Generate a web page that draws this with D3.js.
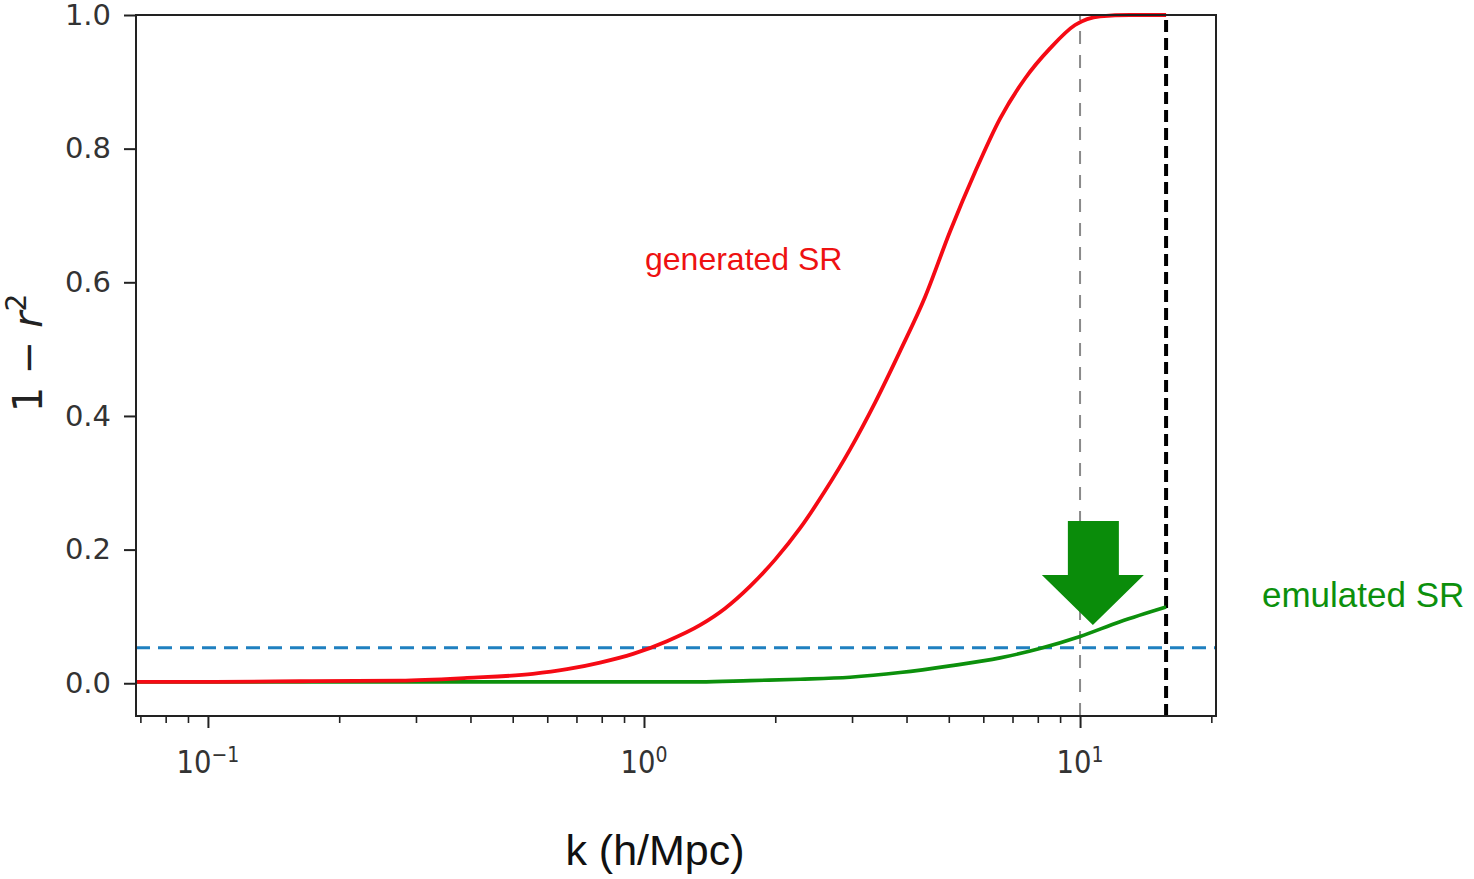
<!DOCTYPE html>
<html>
<head>
<meta charset="utf-8">
<script src="https://cdn.jsdelivr.net/npm/d3@7"></script>
<style>
  body { margin: 0; background: #fff; }
  svg { display: block; }
</style>
</head>
<body>
<div id="chart"></div>
<script>
// k values (h/Mpc) and 1 - r^2
const kRed = [0.0684, 0.1, 0.163, 0.276, 0.393, 0.556, 0.666, 0.793, 0.944, 1.129, 1.344, 1.534, 1.750, 1.998,
  2.280, 2.602, 2.969, 3.388, 3.866, 4.411, 5.033, 5.744, 6.555, 7.479, 8.535, 9.739, 11.12, 13.02, 15.75];
const redValues = [0.002, 0.002, 0.003, 0.004, 0.008, 0.014, 0.021, 0.031, 0.044, 0.063, 0.087, 0.112, 0.145, 0.185,
  0.232, 0.288, 0.350, 0.420, 0.497, 0.578, 0.676, 0.765, 0.845, 0.905, 0.950, 0.985, 0.998, 1.0, 1.0];

const kGreen = [0.0684, 0.1, 0.276, 0.556, 1.0, 1.344, 1.750, 2.280, 2.969, 3.866, 5.033, 6.555, 8.09, 10.0, 12.35, 15.75];
const greenValues = [0.002, 0.002, 0.002, 0.002, 0.002, 0.002, 0.004, 0.006, 0.009, 0.016, 0.026, 0.038, 0.052, 0.070, 0.092, 0.114];

const threshold = 0.053;     // blue dashed line
const kGray = 10;            // thin gray dashed line
const kBlack = 15.75;        // thick black dashed line
const arrowTip = { k: 10.7, v: 0.087 };

const yTicks = [0.0, 0.2, 0.4, 0.6, 0.8, 1.0];
const xMajor = [0.1, 1, 10];
const xExponents = ["\u22121", "0", "1"];
const xMinor = [0.07, 0.08, 0.09, 0.2, 0.3, 0.4, 0.5, 0.6, 0.7, 0.8, 0.9, 2, 3, 4, 5, 6, 7, 8, 9, 20];

const W = 1474, H = 879;
const margin = { top: 15, right: 258, bottom: 163, left: 136 };

const svg = d3.select("#chart").append("svg")
  .attr("width", W)
  .attr("height", H);

const x = d3.scaleLog()
  .domain([0.0684, 20.5])
  .range([margin.left, W - margin.right]);

const y = d3.scaleLinear()
  .domain([-0.049, 1.0])
  .range([H - margin.bottom, margin.top]);

const tickFont = "'DejaVu Sans', sans-serif";
const annoFont = "'Liberation Sans', Arial, sans-serif";

// threshold line
svg.append("line")
  .attr("x1", x.range()[0]).attr("x2", x.range()[1])
  .attr("y1", y(threshold)).attr("y2", y(threshold))
  .attr("stroke", "#1f80c0")
  .attr("stroke-width", 3)
  .attr("stroke-dasharray", "14,8");

// vertical markers
svg.append("line")
  .attr("x1", x(kGray)).attr("x2", x(kGray))
  .attr("y1", y.range()[0]).attr("y2", y.range()[1])
  .attr("stroke", "#8a8a8a")
  .attr("stroke-width", 2)
  .attr("stroke-dasharray", "13,11");

svg.append("line")
  .attr("x1", x(kBlack)).attr("x2", x(kBlack))
  .attr("y1", y.range()[0]).attr("y2", y.range()[1])
  .attr("stroke", "#000")
  .attr("stroke-width", 4)
  .attr("stroke-dasharray", "12,6");

// curves
const line = d3.line()
  .x(d => x(d[0]))
  .y(d => y(d[1]))
  .curve(d3.curveMonotoneX);

svg.append("path")
  .datum(d3.zip(kGreen, greenValues))
  .attr("fill", "none")
  .attr("stroke", "#0c900c")
  .attr("stroke-width", 3.6)
  .attr("d", line);

svg.append("path")
  .datum(d3.zip(kRed, redValues))
  .attr("fill", "none")
  .attr("stroke", "#f50a14")
  .attr("stroke-width", 3.8)
  .attr("d", line);

// axes frame
svg.append("rect")
  .attr("x", x.range()[0])
  .attr("y", y.range()[1])
  .attr("width", x.range()[1] - x.range()[0])
  .attr("height", y.range()[0] - y.range()[1])
  .attr("fill", "none")
  .attr("stroke", "#222")
  .attr("stroke-width", 2);

// y axis
const yAxis = svg.append("g")
  .attr("transform", `translate(${margin.left},0)`)
  .call(d3.axisLeft(y).tickValues(yTicks).tickSize(12).tickPadding(13).tickFormat(d3.format(".1f")));
yAxis.select(".domain").remove();
yAxis.selectAll("line").attr("stroke", "#222").attr("stroke-width", 2);
yAxis.selectAll("text")
  .attr("font-family", tickFont)
  .attr("font-size", 29)
  .attr("fill", "#333");

// x axis: minor ticks
const xMinorAxis = svg.append("g")
  .attr("transform", `translate(0,${H - margin.bottom})`)
  .call(d3.axisBottom(x).tickValues(xMinor).tickSize(7).tickFormat(""));
xMinorAxis.select(".domain").remove();
xMinorAxis.selectAll("line").attr("stroke", "#222").attr("stroke-width", 1.6);

// x axis: major ticks with power labels
const xMajorAxis = svg.append("g")
  .attr("transform", `translate(0,${H - margin.bottom})`)
  .call(d3.axisBottom(x).tickValues(xMajor).tickSize(12).tickFormat(""));
xMajorAxis.select(".domain").remove();
xMajorAxis.selectAll("line").attr("stroke", "#222").attr("stroke-width", 2);

xMajor.forEach((v, i) => {
  const t = svg.append("text")
    .attr("transform", `translate(${x(v)},${H - margin.bottom + 57}) scale(0.86,1)`)
    .attr("text-anchor", "middle")
    .attr("font-family", tickFont)
    .attr("font-size", 32)
    .attr("fill", "#333");
  t.append("tspan").text("10");
  t.append("tspan").attr("dy", -11).attr("font-size", 22).text(xExponents[i]);
});

// axis labels
const yLabel = svg.append("text")
  .attr("transform", `translate(42,353) rotate(-90)`)
  .attr("text-anchor", "middle")
  .attr("font-family", tickFont)
  .attr("font-size", 40)
  .attr("fill", "#222");
yLabel.append("tspan").text("1 \u2212 ");
yLabel.append("tspan").attr("font-style", "italic").text("r");
yLabel.append("tspan").attr("dy", -16).attr("font-size", 28).text("2");

svg.append("text")
  .attr("x", 655)
  .attr("y", 865)
  .attr("text-anchor", "middle")
  .attr("font-family", annoFont)
  .attr("font-size", 43)
  .attr("fill", "#111")
  .text("k (h/Mpc)");

// annotations
svg.append("text")
  .attr("x", 645)
  .attr("y", 270)
  .attr("font-family", annoFont)
  .attr("font-size", 32)
  .attr("fill", "#ee1111")
  .text("generated SR");

svg.append("text")
  .attr("x", 1262)
  .attr("y", 607)
  .attr("font-family", annoFont)
  .attr("font-size", 35)
  .attr("fill", "#0c900c")
  .text("emulated SR");

// block arrow pointing at the emulated curve
const tipX = x(arrowTip.k), tipY = y(arrowTip.v);
const arrowShape = [[0, 0], [-51, -50], [-25, -50], [-25, -104], [26, -104], [26, -50], [51, -50]];
svg.append("polygon")
  .attr("points", arrowShape.map(p => [tipX + p[0], tipY + p[1]].join(",")).join(" "))
  .attr("fill", "#0a8c0a");
</script>
</body>
</html>
